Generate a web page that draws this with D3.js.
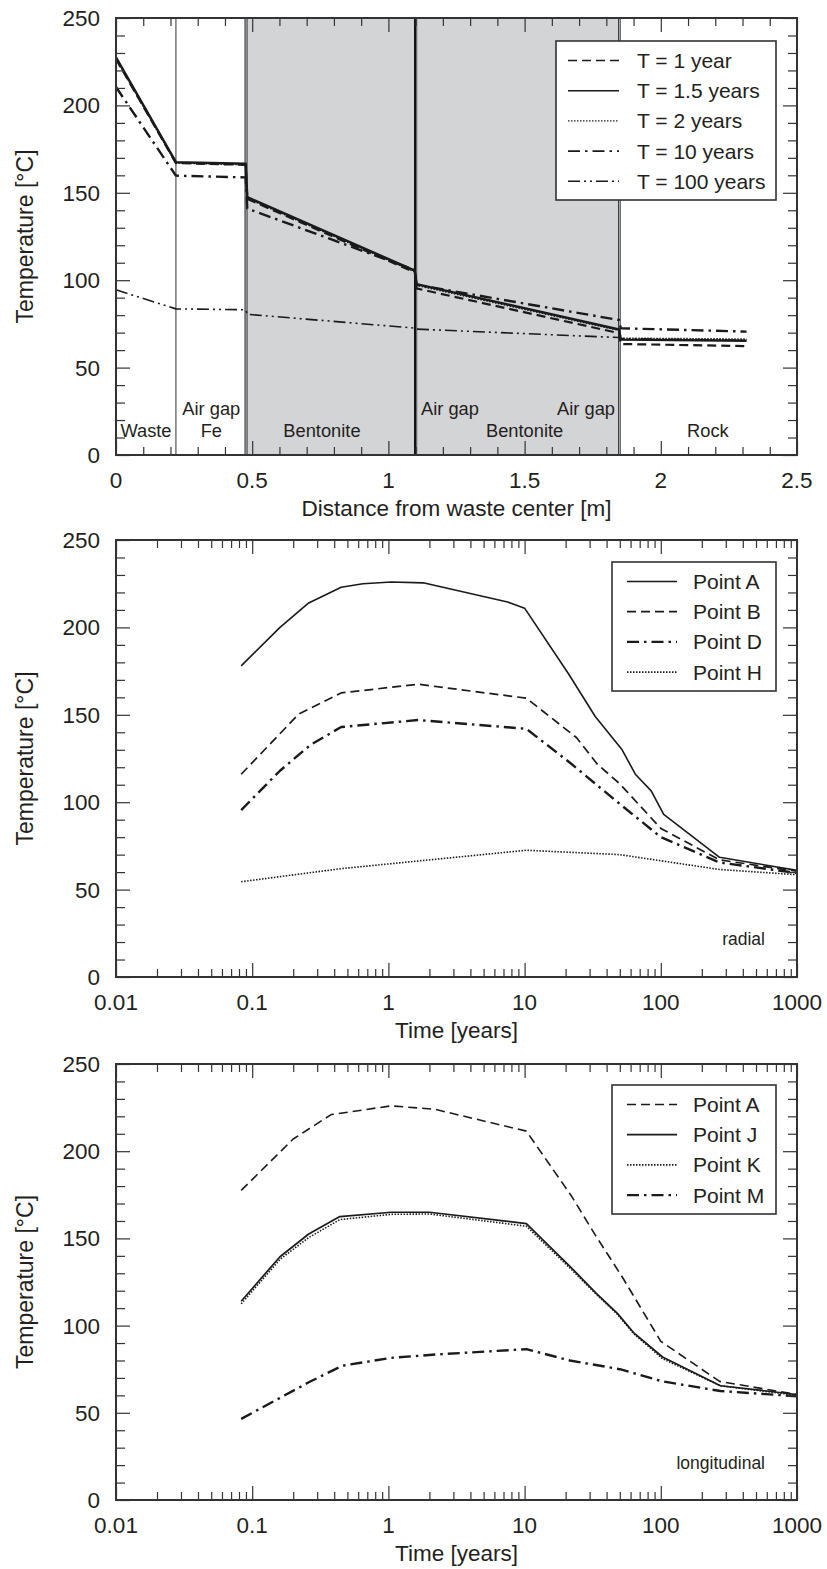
<html>
<meta charset="utf-8" />
<script src="https://d3js.org/d3.v7.min.js"></script>
<body style="margin:0;background:#fff">
<svg id="fig" width="827" height="1569"></svg>
<script>
// ---- panel 1: temperature vs distance ----
const distX = [0, 0.22, 0.476, 0.482, 1.097, 1.103, 1.847, 1.853, 2.315];
const tempT1 = [226.5, 167, 166, 146.5, 104.5, 95.3, 69.7, 63.5, 62.3];
const tempT15 = [227.5, 167.5, 166.6, 147.5, 105.5, 97.8, 71.8, 66, 65.4];
const tempT2 = [227, 167.2, 166.2, 147, 105, 97.2, 71.4, 66.7, 66.2];
const tempT10 = [210.5, 159.8, 158.8, 141, 105.8, 97.4, 77.2, 72.5, 70.6];
const tempT100 = [94.5, 83.6, 83.1, 80.5, 72.6, 72, 67.2, 66.6, 65.6];
const distNames = ["T = 1 year", "T = 1.5 years", "T = 2 years", "T = 10 years", "T = 100 years"];
const layerNames = [["Waste", 0.11, 10.3], ["Air gap", 0.35, 23], ["Fe", 0.35, 10.3], ["Bentonite", 0.756, 10.3],
  ["Air gap", 1.226, 23], ["Bentonite", 1.5, 10.3], ["Air gap", 1.832, 23], ["Rock", 2.173, 10.3]];
const distTicks = ["0", "0.5", "1", "1.5", "2", "2.5"];

// ---- panel 2: radial points vs time ----
const radTimeA = [0.083, 0.16, 0.26, 0.45, 0.65, 1.05, 1.8, 7.5, 10, 21, 33, 52, 65, 85, 105, 270, 1000];
const radA = [178, 200, 214, 223, 225, 226, 225.5, 214.5, 211, 173.5, 149, 130, 116, 106.5, 93, 68.5, 61];
const radTimeB = [0.083, 0.22, 0.45, 1.65, 10.3, 24, 34, 50, 100, 270, 1000];
const radB = [116, 150.5, 162.5, 167.5, 159.5, 137, 122, 110.5, 85, 67, 60.5];
const radTimeD = [0.083, 0.16, 0.27, 0.45, 1.65, 10.3, 22, 50, 100, 270, 1000];
const radD = [95.5, 118, 133, 143, 147, 142, 122, 99, 80, 65.5, 59.5];
const radTimeH = [0.083, 0.45, 10.3, 50, 100, 270, 1000];
const radH = [54.5, 62, 72.5, 70, 66.5, 61.5, 58.5];
const radNames = ["Point A", "Point B", "Point D", "Point H"];

// ---- panel 3: longitudinal points vs time ----
const lonTimeA = [0.083, 0.2, 0.38, 1.05, 2.2, 10.3, 22, 33, 52, 100, 270, 1000];
const lonA = [177.5, 207, 221, 226, 224, 211.5, 174.5, 152, 128, 91, 68, 60.5];
const lonTimeJK = [0.083, 0.16, 0.26, 0.44, 1.05, 2.0, 10.3, 21.5, 33.6, 48, 63, 103, 274, 1000];
const lonJ = [114, 139.5, 152.5, 162.5, 165, 165, 158.5, 134, 118.5, 107, 96, 82, 65.5, 60.5];
const lonK = [112.5, 138, 150.5, 160.8, 163.8, 164, 157, 133, 118, 106.5, 95.5, 81, 65.5, 60];
const lonTimeM = [0.083, 0.26, 0.46, 1.05, 2.3, 10.3, 21.5, 50, 103, 274, 1000];
const lonM = [46.5, 67.5, 77, 81.5, 83.5, 86.5, 80, 75, 68, 62.5, 59.5];
const lonNames = ["Point A", "Point J", "Point K", "Point M"];

const tempTicks = ["0", "50", "100", "150", "200", "250"];
const timeTicks = ["0.01", "0.1", "1", "10", "100", "1000"];

const FONT = "'Liberation Sans', Arial, sans-serif";
const INK = "#231f20";
const styles = {
  dash: {dash: "9,5", w: 1.6},
  solid: {dash: null, w: 1.6},
  dot: {dash: "1.5,1.5", w: 1.6},
  dashdot: {dash: "12,5,2.5,5", w: 2.4},
  dashdotdot: {dash: "12,4,2,4,2,4", w: 1.6}
};

const svg = d3.select("#fig");
const L = 116, R = 797, W = R - L;

function txt(g, x, y, s, size, anchor) {
  return g.append("text").attr("x", x).attr("y", y).text(s)
    .attr("font-family", FONT).attr("font-size", size)
    .attr("fill", INK).attr("text-anchor", anchor || "middle");
}

function tickAxis(g, axis, tr, vals, len) {
  const a = g.append("g").attr("transform", tr)
    .call(axis.tickValues(vals).tickSize(-len).tickFormat(""));
  a.select(".domain").remove();
  a.selectAll("line").attr("stroke", "#333").attr("stroke-width", 1.2);
}

function panel(top, bottom, x, xMajor, xMinor, xLabels, xTitle) {
  const H = bottom - top;
  const g = svg.append("g").attr("transform", `translate(${L},${top})`);
  const y = d3.scaleLinear().domain([0, 250]).range([H, 0]);
  const back = g.append("g");
  const marks = g.append("g");
  const axes = g.append("g");
  const yMajor = d3.range(0, 251, 50);
  const yMinor = d3.range(0, 251, 10).filter(v => v % 50);
  tickAxis(axes, d3.axisBottom(x), `translate(0,${H})`, xMinor, 8);
  tickAxis(axes, d3.axisBottom(x), `translate(0,${H})`, xMajor, 14);
  tickAxis(axes, d3.axisTop(x), "translate(0,0)", xMinor, 8);
  tickAxis(axes, d3.axisTop(x), "translate(0,0)", xMajor, 14);
  tickAxis(axes, d3.axisLeft(y), "translate(0,0)", yMinor, 9);
  tickAxis(axes, d3.axisLeft(y), "translate(0,0)", yMajor, 14);
  tickAxis(axes, d3.axisRight(y), `translate(${W},0)`, yMinor, 9);
  tickAxis(axes, d3.axisRight(y), `translate(${W},0)`, yMajor, 14);
  axes.append("rect").attr("width", W).attr("height", H)
    .attr("fill", "none").attr("stroke", "#333").attr("stroke-width", 2);
  yMajor.forEach((v, i) => txt(g, -16, y(v) + 8, tempTicks[i], 22.5, "end"));
  xMajor.forEach((v, i) => txt(g, x(v), H + 33, xLabels[i], 22.5));
  txt(g, W / 2, H + 61, xTitle, 22.5);
  txt(g, 0, 0, "Temperature [°C]", 23).attr("transform", `translate(-83,${H / 2}) rotate(-90)`);
  return {g, back, marks, y};
}

function series(p, x, xs, ys, st, w) {
  const line = d3.line().x((d, i) => x(xs[i])).y(d => p.y(d));
  p.marks.append("path").datum(ys).attr("d", line)
    .attr("fill", "none").attr("stroke", "#1a1a1a")
    .attr("stroke-width", w || st.w).attr("stroke-dasharray", st.dash)
    .attr("stroke-linejoin", "round");
}

function legend(x0, y0, w, h, names, sts, lx0, lx1, tx, widths) {
  const g = svg.append("g");
  g.append("rect").attr("x", x0).attr("y", y0).attr("width", w).attr("height", h)
    .attr("fill", "#fff").attr("stroke", "#333").attr("stroke-width", 1.6);
  names.forEach((n, i) => {
    const yy = y0 + 19.5 + i * 30.2;
    g.append("line").attr("x1", lx0).attr("x2", lx1).attr("y1", yy).attr("y2", yy)
      .attr("stroke", "#1a1a1a").attr("stroke-width", widths[i])
      .attr("stroke-dasharray", sts[i].dash);
    txt(g, tx, yy + 7.5, n, 21, "start");
  });
}

// ---------- panel 1 ----------
const xd = d3.scaleLinear().domain([0, 2.5]).range([0, W]);
const p1 = panel(18, 455, xd, d3.range(0, 2.51, 0.5), d3.range(1, 25).filter(v => v % 5).map(v => v / 10),
  distTicks, "Distance from waste center [m]");
p1.back.append("rect").attr("x", xd(0.481)).attr("y", 0)
  .attr("width", xd(1.849) - xd(0.481)).attr("height", 437).attr("fill", "#d3d4d6");
[[0.22, "#333", 1], [0.474, "#666", 1.6], [0.481, "#666", 1.6], [1.098, "#111", 2.2], [1.104, "#555", 1],
 [1.845, "#333", 1], [1.851, "#333", 1]].forEach(b => {
  p1.back.append("line").attr("x1", xd(b[0])).attr("x2", xd(b[0])).attr("y1", 0).attr("y2", 437)
    .attr("stroke", b[1]).attr("stroke-width", b[2]);
});
layerNames.forEach(d => txt(p1.back, xd(d[1]), p1.y(d[2]), d[0], 18.3, d[0] === "Air gap" && d[1] > 1.8 ? "end" : "middle"));
series(p1, xd, distX, tempT100, styles.dashdotdot, 1.6);
series(p1, xd, distX, tempT10, styles.dashdot, 2.4);
series(p1, xd, distX, tempT1, styles.dash, 2.2);
series(p1, xd, distX, tempT2, styles.dot, 2);
series(p1, xd, distX, tempT15, styles.solid, 2.4);
legend(556, 41, 220, 159, distNames,
  [styles.dash, styles.solid, styles.dot, styles.dashdot, styles.dashdotdot], 568, 619, 637, [1.6, 1.4, 1.4, 1.6, 1.6]);

// ---------- log panels ----------
const xt = d3.scaleLog().domain([0.01, 1000]).range([0, W]);
const decades = [0.01, 0.1, 1, 10, 100, 1000];
const logMinor = [];
decades.slice(0, 5).forEach(d => d3.range(2, 10).forEach(m => logMinor.push(d * m)));

const p2 = panel(540, 977, xt, decades, logMinor, timeTicks, "Time [years]");
series(p2, xt, radTimeH, radH, styles.dot, 1.6);
series(p2, xt, radTimeD, radD, styles.dashdot, 2.4);
series(p2, xt, radTimeB, radB, styles.dash, 1.7);
series(p2, xt, radTimeA, radA, styles.solid, 1.6);
txt(p2.g, 649, 405, "radial", 17.5, "end");
legend(612, 562, 164, 129, radNames,
  [styles.solid, styles.dash, styles.dashdot, styles.dot], 627, 677, 693, [1.6, 1.7, 2.4, 1.6]);

const p3 = panel(1064, 1500, xt, decades, logMinor, timeTicks, "Time [years]");
series(p3, xt, lonTimeM, lonM, styles.dashdot, 2.4);
series(p3, xt, lonTimeJK, lonK, styles.dot, 1.6);
series(p3, xt, lonTimeJK, lonJ, styles.solid, 1.7);
series(p3, xt, lonTimeA, lonA, styles.dash, 1.6);
txt(p3.g, 649, 405, "longitudinal", 17.5, "end");
legend(612, 1085, 164, 129, lonNames,
  [styles.dash, styles.solid, styles.dot, styles.dashdot], 627, 677, 693, [1.6, 1.8, 1.6, 2.4]);
</script>
</body>
</html>
